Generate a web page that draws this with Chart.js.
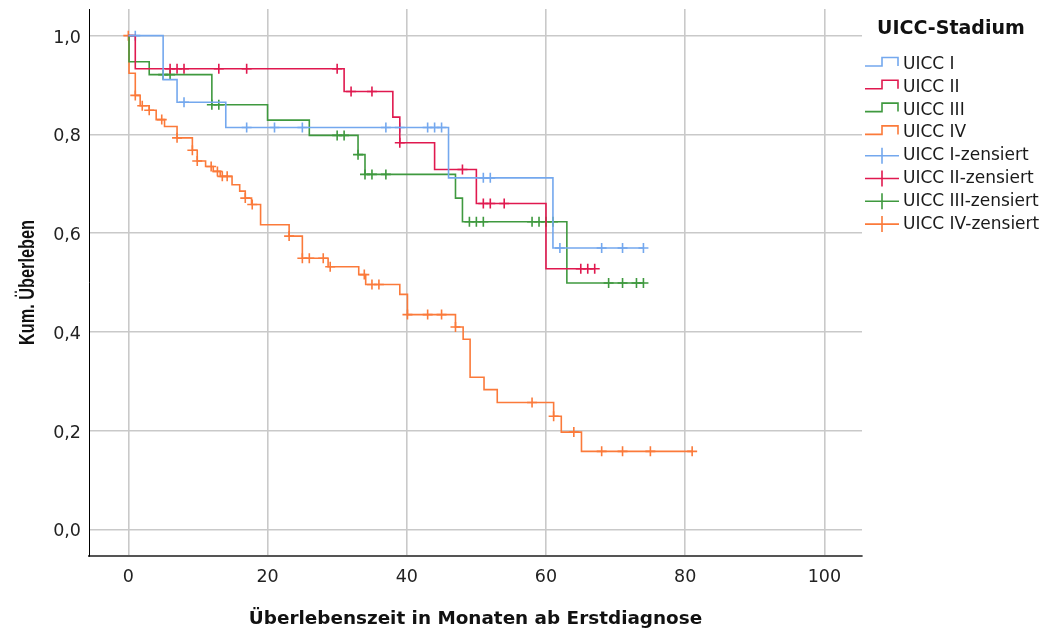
<!DOCTYPE html>
<html lang="de">
<head>
<meta charset="utf-8">
<title>Kaplan-Meier-Überlebenskurven nach UICC-Stadium</title>
<script src="https://cdn.jsdelivr.net/npm/chart.js@4.4.1/dist/chart.umd.min.js"></script>
<style>
  html, body { margin: 0; padding: 0; background: #ffffff; }
  #wrap { width: 1046px; height: 634px; }
  canvas { display: block; }
</style>
</head>
<body>
<div id="wrap"><canvas id="km" width="1046" height="634"></canvas></div>
<script>
// Kaplan-Meier estimates per stage: step times (months) and survival after each step
const timesI   = [0, 5, 7, 14, 46, 61, 74];
const survI    = [1.0, 0.911, 0.865, 0.814, 0.712, 0.570, 0.570];
const censI    = [1, 8, 17, 21, 25, 37, 39, 43, 44, 45, 51, 52, 62, 68, 71, 74];

const timesII  = [0, 1, 31, 38, 39, 44, 50, 60, 67];
const survII   = [1.0, 0.933, 0.887, 0.835, 0.783, 0.729, 0.660, 0.528, 0.528];
const censII   = [6, 7, 8, 13, 17, 30, 32, 35, 39, 48, 51, 52, 54, 65, 66, 67];

const timesIII = [0, 0.1, 3, 12, 20, 26, 33, 34, 47, 48, 63, 74];
const survIII  = [1.0, 0.947, 0.921, 0.860, 0.829, 0.798, 0.759, 0.719, 0.671, 0.623, 0.499, 0.499];
const censIII  = [5, 6, 12, 13, 30, 31, 33, 34, 35, 37, 49, 50, 51, 58, 59, 60, 61, 69, 71, 73, 74];

const timesIV  = [0, 0.1, 1, 1.7, 3, 4, 5.2, 7, 9.2, 9.9, 11.1, 12.2, 13.2, 14.9, 16, 16.8, 17.7, 19,
                  23.1, 25, 28.7, 33.1, 34.1, 39, 40.1, 47, 48.1, 49.1, 51.1, 53, 61.1, 62.2, 65.1, 81];
const survIV   = [1.0, 0.924, 0.879, 0.858, 0.849, 0.830, 0.816, 0.793, 0.768, 0.746, 0.735, 0.725, 0.715,
                  0.698, 0.685, 0.671, 0.658, 0.617, 0.594, 0.549, 0.532, 0.516, 0.496, 0.476, 0.435,
                  0.410, 0.385, 0.308, 0.283, 0.257, 0.229, 0.197, 0.158, 0.158];
const censIV   = [0, 1, 2, 3, 4.8, 7, 9.2, 9.9, 11.9, 12.8, 13.5, 14.2, 16.8, 17.8, 23.1, 25, 26, 28, 29,
                  33.9, 35, 36, 40.1, 43, 45, 47, 58, 61.1, 64, 68, 71, 75, 81];

const stageLabels  = ['UICC I', 'UICC II', 'UICC III', 'UICC IV'];
const stageColors  = ['#74a8ee', '#e0194f', '#3f993f', '#fb7a3a'];
const xTickValues  = [0, 20, 40, 60, 80, 100];
const yTickValues  = [0, 0.2, 0.4, 0.6, 0.8, 1.0];

const legendTitle  = 'UICC-Stadium';
const xAxisTitle   = 'Überlebenszeit in Monaten ab Erstdiagnose';
const yAxisTitle   = 'Kum. Überleben';

// survival value of a step function at time t
function survivalAt(times, surv, t) {
  let v = surv[0];
  for (let i = 0; i < times.length; i++) {
    if (times[i] <= t) v = surv[i];
  }
  return v;
}

const series = [
  [timesI, survI, censI],
  [timesII, survII, censII],
  [timesIII, survIII, censIII],
  [timesIV, survIV, censIV]
];

const curveSets = series.map(([t, s], i) => ({
  label: stageLabels[i],
  data: t.map((x, k) => ({ x: x, y: s[k] })),
  showLine: true,
  stepped: 'before',
  borderColor: stageColors[i],
  borderWidth: 1.6,
  pointRadius: 0,
  pointHoverRadius: 0,
  fill: false
}));

const censorSets = series.map(([t, s, c], i) => ({
  label: stageLabels[i] + '-zensiert',
  data: c.map(x => ({ x: x, y: survivalAt(t, s, x) })),
  showLine: false,
  pointStyle: 'cross',
  pointRadius: 5,
  pointHoverRadius: 5,
  pointBorderWidth: 1.6,
  borderColor: stageColors[i],
  backgroundColor: stageColors[i]
}));

const BOLD_FONT = 'bold 18.4px "DejaVu Sans", sans-serif';
const LEGEND_TITLE_FONT = 'bold 19px "DejaVu Sans", sans-serif';
const Y_TITLE_FONT = 'bold 16.3px "Liberation Sans", Arial, sans-serif';

const kmTitles = {
  id: 'kmTitles',
  afterDraw(chart) {
    const ctx = chart.ctx;
    const area = chart.chartArea;
    ctx.save();
    ctx.fillStyle = '#111111';
    ctx.textBaseline = 'middle';
    ctx.textAlign = 'center';
    ctx.font = BOLD_FONT;
    ctx.fillText(xAxisTitle, (area.left + area.right) / 2, 619.5);

    // vertical title: short run along the axis, full-height letters across it
    ctx.translate(28.5, (area.top + area.bottom) / 2);
    ctx.rotate(-Math.PI / 2);
    ctx.scale(1, 1.3);
    ctx.font = Y_TITLE_FONT;
    ctx.fillText(yAxisTitle, 0, 0);
    ctx.restore();
  }
};

// legend box on the right: step glyphs for curves, crosses for censored cases
const kmLegend = {
  id: 'kmLegend',
  afterDraw(chart) {
    const ctx = chart.ctx;
    ctx.save();
    ctx.textBaseline = 'middle';
    ctx.textAlign = 'left';
    ctx.fillStyle = '#111111';
    ctx.font = LEGEND_TITLE_FONT;
    ctx.fillText(legendTitle, 877, 29.5);
    ctx.font = '17px "DejaVu Sans", sans-serif';
    chart.data.datasets.forEach((ds, i) => {
      const y = 64.5 + i * 22.8;
      ctx.strokeStyle = ds.borderColor;
      ctx.lineWidth = 1.6;
      ctx.beginPath();
      if (ds.showLine) {
        ctx.moveTo(865, y + 1.5);
        ctx.lineTo(882, y + 1.5);
        ctx.lineTo(882, y - 7);
        ctx.lineTo(898, y - 7);
        ctx.lineTo(898, y + 1.5);
      } else {
        ctx.moveTo(865, y);
        ctx.lineTo(899, y);
        ctx.moveTo(882, y - 8);
        ctx.lineTo(882, y + 8);
      }
      ctx.stroke();
      ctx.fillStyle = '#1a1a1a';
      ctx.fillText(ds.label, 903, y);
    });
    ctx.restore();
  }
};

Chart.defaults.font.family = '"DejaVu Sans", sans-serif';
Chart.defaults.color = '#222222';

// keep the plot frame exactly where it is set, without extra room for end labels
function noEdgePadding(scale) {
  scale.paddingTop = 0;
  scale.paddingBottom = 0;
  scale.paddingLeft = 0;
  scale.paddingRight = 0;
}

new Chart(document.getElementById('km'), {
  type: 'scatter',
  data: { datasets: [...curveSets, ...censorSets] },
  options: {
    responsive: false,
    animation: false,
    devicePixelRatio: 1,
    events: [],
    layout: { padding: { left: 0, right: 184, top: 9, bottom: 0 } },
    plugins: {
      legend: { display: false },
      tooltip: { enabled: false }
    },
    scales: {
      x: {
        type: 'linear',
        min: -5.65,
        max: 105.4,
        afterFit(scale) { scale.height = 78; noEdgePadding(scale); },
        afterBuildTicks(scale) { scale.ticks = xTickValues.map(v => ({ value: v })); },
        ticks: {
          padding: 10.5,
          font: { size: 17.5 },
          color: '#222222',
          callback: v => String(v)
        },
        grid: { color: '#c9c9c9', lineWidth: 1.6, drawTicks: false },
        border: { display: true, color: '#555555', width: 2 },
        title: { display: false }
      },
      y: {
        type: 'linear',
        min: -0.054,
        max: 1.054,
        afterFit(scale) { scale.width = 89; noEdgePadding(scale); },
        afterBuildTicks(scale) { scale.ticks = yTickValues.map(v => ({ value: v })); },
        ticks: {
          padding: 8,
          labelOffset: 2.5,
          font: { size: 17.5 },
          color: '#222222',
          callback: v => Number(v).toFixed(1).replace('.', ',')
        },
        grid: { color: '#c9c9c9', lineWidth: 1.6, drawTicks: false },
        border: { display: true, color: '#000000', width: 1 },
        title: { display: false }
      }
    }
  },
  plugins: [kmTitles, kmLegend]
});
</script>
</body>
</html>
